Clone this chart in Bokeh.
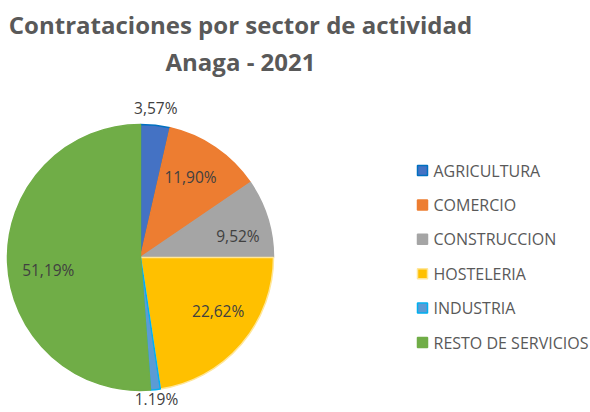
import numpy as np
from bokeh.plotting import figure
from bokeh.models import Range1d, ColumnDataSource
from bokeh.core.properties import value
from bokeh.embed import file_html
from bokeh.resources import INLINE

# ---- data ----
sectors = ["AGRICULTURA", "COMERCIO", "CONSTRUCCION", "HOSTELERIA", "INDUSTRIA", "RESTO DE SERVICIOS"]
percents = [3.57, 11.90, 9.52, 22.62, 1.19, 51.19]
labels = ["3,57%", "11,90%", "9,52%", "22,62%", "1.19%", "51,19%"]
title_lines = ["Contrataciones por sector de actividad", "Anaga - 2021"]

# ---- style ----
fills = ["#4472C4", "#ED7D31", "#A5A5A5", "#FFC000", "#5B9BD5", "#70AD47"]
edges = ["#0070C0", "#ED7D31", "#A5A5A5", "#FFE699", "#00B0F0", "#70AD47"]
label_r = [1.13, 0.71, 0.75, 0.71, 1.07, 0.70]
label_da = [0.01, 0.04, -0.085, 0.105, 0.0, 0.10]  # small angular nudges (radians)

W, H = 590, 412
p = figure(width=W, height=H, output_backend="svg", toolbar_location=None,
           x_range=Range1d(0, W), y_range=Range1d(0, H),
           min_border=0)
p.axis.visible = False
p.grid.visible = False
p.outline_line_color = None
p.background_fill_color = "white"

cx, cy, R = 140, 155, 133
frac = np.array(percents) / sum(percents)
cum = np.concatenate([[0], np.cumsum(frac)])
start = np.pi / 2 - 2 * np.pi * cum[:-1]
end = np.pi / 2 - 2 * np.pi * cum[1:]
mid = (start + end) / 2 + np.array(label_da)

src = ColumnDataSource(dict(start=start, end=end, fill=fills, edge=edges))
p.wedge(x=cx, y=cy, radius=R, start_angle="start", end_angle="end", direction="clock",
        fill_color="fill", line_color="edge", line_width=1.5, source=src)

lx = cx + R * np.array(label_r) * np.cos(mid)
ly = cy + R * np.array(label_r) * np.sin(mid)
p.text(x=lx, y=ly, text=labels, text_align="center", text_baseline="middle",
       text_font=value("Open Sans"), text_font_size="15.5px", text_color="#404040")

# title
p.text(x=[240, 240], y=[412 - 24, 412 - 61], text=title_lines, text_align="center", text_baseline="middle",
       text_font=value("Open Sans"), text_font_style="bold", text_font_size="24px",
       text_color="#595959")

# legend
idx = np.arange(len(sectors))
legy = 412 - (170 + idx * 34.4)
p.scatter(x=422, y=legy, marker="square", size=10, fill_color=fills, line_color=edges, line_width=1.5)
p.text(x=433, y=legy, text=sectors, text_align="left", text_baseline="middle",
       text_font=value("Open Sans"), text_font_size="16px", text_color="#595959")

open("out.html", "w").write(file_html(p, INLINE))
